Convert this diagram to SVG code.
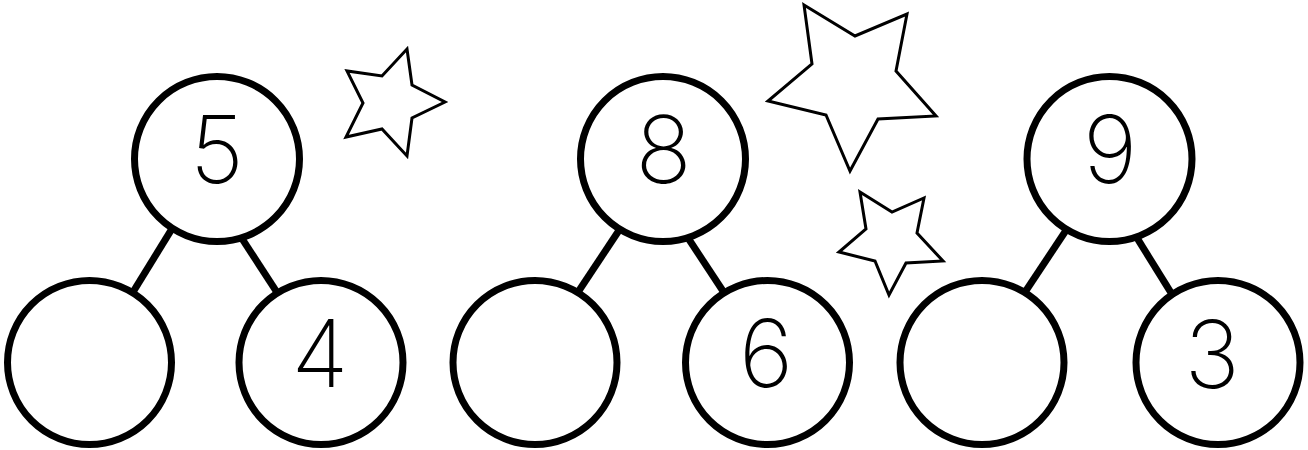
<svg xmlns="http://www.w3.org/2000/svg" width="1308" height="450" viewBox="0 0 1308 450">
<style>
.bg{fill:#ffffff}
.node{fill:#ffffff;stroke:#000000;stroke-width:7}
.edge{stroke:#000000;stroke-width:7;fill:none}
.star{fill:#ffffff;stroke:#000000;stroke-width:3;stroke-linejoin:miter}
.num{font-family:"Inter","Lato","Liberation Sans",sans-serif;font-weight:160;font-size:93px;text-anchor:middle;fill:#000000}
</style>
<rect class="bg" x="0" y="0" width="1308" height="450"/>
<g id="stars">
<polygon class="star" points="407,49 412,85 445,102 412,118 407,156 382,129 346,137 363,103 347,71 382,76"/>
<polygon class="star" points="804,5 855,36 907,14 896,71 936,116 878,119 850,171 826,115 768,101 812,64"/>
<polygon class="star" points="860,192 892,212 924,198 917,233 943,261 906,263 889,295 875,261 839,252 866,229"/>
</g>
<g id="connectors">
<line class="edge" x1="174.2" y1="225.2" x2="128.8" y2="298.8"/>
<line class="edge" x1="238.6" y1="233.3" x2="280.4" y2="297.7"/>
<line class="edge" x1="622.4" y1="225.3" x2="573.6" y2="298.7"/>
<line class="edge" x1="683.6" y1="231.3" x2="727.4" y2="297.7"/>
<line class="edge" x1="1069.4" y1="225.3" x2="1020.6" y2="298.7"/>
<line class="edge" x1="1132.8" y1="231.2" x2="1174.2" y2="297.8"/>
</g>
<g id="n1-top"><circle class="node" cx="217" cy="159" r="82.5"/><text class="num" x="217" y="183">5</text></g>
<g id="n1-left"><circle class="node" cx="89.5" cy="362.5" r="82"/></g>
<g id="n1-right"><circle class="node" cx="321" cy="362.5" r="82"/><text class="num" x="320" y="387">4</text></g>
<g id="n2-top"><circle class="node" cx="663" cy="159" r="82.5"/><text class="num" x="663.5" y="183">8</text></g>
<g id="n2-left"><circle class="node" cx="535" cy="362.5" r="82"/></g>
<g id="n2-right"><circle class="node" cx="767.5" cy="362.5" r="82"/><text class="num" x="766" y="387">6</text></g>
<g id="n3-top"><circle class="node" cx="1109.5" cy="159" r="82.5"/><text class="num" x="1110" y="183">9</text></g>
<g id="n3-left"><circle class="node" cx="982" cy="362.5" r="82"/></g>
<g id="n3-right"><circle class="node" cx="1218" cy="362.5" r="82"/><text class="num" x="1212" y="388">3</text></g>
</svg>
